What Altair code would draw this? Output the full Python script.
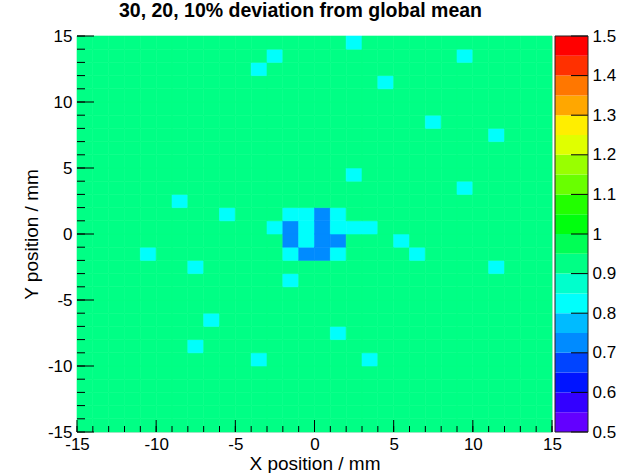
import colorsys

import altair as alt
import pandas as pd

# Detector map: 1 mm pixels over a 30 x 30 mm area.
X_RANGE = [-15, 15]
Y_RANGE = [-15, 15]

# Relative response levels (30, 20 and 10 % below the global mean).
BASE_VALUE = 0.9
CYAN_VALUE = 0.8
BLUE_VALUE = 0.7

# Lower-left corners (x, y) of the pixels at 0.8 of the mean.
cyan_cells = [
    (2, 14), (-3, 13), (9, 13), (-4, 12), (4, 11), (7, 8), (11, 7),
    (2, 4), (9, 3), (-9, 2), (-6, 1),
    (-2, 1), (-1, 1), (1, 1),
    (-3, 0), (-1, 0), (1, 0), (2, 0), (3, 0),
    (-1, -1), (5, -1),
    (-2, -2), (1, -2), (6, -2), (-11, -2),
    (-8, -3), (11, -3), (-2, -4),
    (-7, -7), (1, -8), (-8, -9), (-4, -10), (3, -10),
]

# Lower-left corners (x, y) of the pixels at 0.7 of the mean.
blue_cells = [
    (0, 1), (-2, 0), (0, 0), (-2, -1), (0, -1), (1, -1), (-1, -2), (0, -2),
]

# Colour axis: 20 contour levels between 0.5 and 1.5.
Z_MIN, Z_MAX, N_CONTOURS = 0.5, 1.5, 20
z_step = (Z_MAX - Z_MIN) / N_CONTOURS
z_ticks = [round(Z_MIN + 0.1 * i, 1) for i in range(11)]
band_lo = [round(Z_MIN + z_step * k, 2) for k in range(N_CONTOURS)]
band_hi = [round(lo + z_step, 2) for lo in band_lo]
thresholds = band_lo[1:]


def pretty_palette_colour(idx, n=50):
    """Violet -> red spectrum (HLS, fixed lightness and saturation)."""
    if idx == n - 1:
        return "#ff0000"
    hue = 280.0 - (idx + 1) * (280.0 / n)
    r, g, b = colorsys.hls_to_rgb(hue / 360.0, 0.5, 1.0)
    return "#{:02x}{:02x}{:02x}".format(round(r * 255), round(g * 255), round(b * 255))


contour_colours = [
    pretty_palette_colour(int((k + 0.99) * 50 / N_CONTOURS)) for k in range(N_CONTOURS)
]

# ---- tables -------------------------------------------------------------
cyan_set, blue_set = set(cyan_cells), set(blue_cells)
rows = []
for x0 in range(X_RANGE[0], X_RANGE[1]):
    for y0 in range(Y_RANGE[0], Y_RANGE[1]):
        v = BASE_VALUE
        if (x0, y0) in cyan_set:
            v = CYAN_VALUE
        if (x0, y0) in blue_set:
            v = BLUE_VALUE
        rows.append({"x": x0, "x2": x0 + 1, "y": y0, "y2": y0 + 1, "v": v})
grid = pd.DataFrame(rows)

bands = pd.DataFrame({"lo": band_lo, "hi": band_hi, "v": band_lo})
major = pd.DataFrame({"t": list(range(-15, 16, 5))})
minor = pd.DataFrame({"t": list(range(-15, 16))})
ztick_df = pd.DataFrame({"t": z_ticks})
zframe = pd.DataFrame({"lo": [Z_MIN], "hi": [Z_MAX]})

# ---- geometry / style ---------------------------------------------------
W, H = 475, 396
FONT = "Liberation Sans"
FS = 17          # tick labels
FS_TITLE = 19    # axis titles
BAR_X0, BAR_X1 = W + 3, W + 36
PLAIN_LABEL = "'' + datum.value"   # plain hyphen minus, "1" rather than "1.0"

xs = alt.Scale(domain=X_RANGE, nice=False, zero=False)
ys = alt.Scale(domain=Y_RANGE, nice=False, zero=False)
zs = alt.Scale(domain=[Z_MIN, Z_MAX], nice=False, zero=False)
cs = alt.Scale(type="threshold", domain=thresholds, range=contour_colours)

x_axis = alt.Axis(
    values=list(range(-15, 16, 5)), tickSize=0, domain=False, grid=False,
    labelFlush=False, labelOverlap=False, labelPadding=4, labelExpr=PLAIN_LABEL,
    labelFontSize=FS, labelFont=FONT, labelColor="black",
    title="X position / mm", titleFontSize=FS_TITLE, titleFont=FONT,
    titleFontWeight="normal", titleColor="black", titlePadding=2,
)
y_axis = alt.Axis(
    orient="left", values=list(range(-15, 16, 5)), tickSize=0, domain=False,
    grid=False, labelFlush=False, labelOverlap=False, labelPadding=5,
    labelExpr=PLAIN_LABEL, labelFontSize=FS, labelFont=FONT, labelColor="black",
    title="Y position / mm", titleFontSize=FS_TITLE, titleFont=FONT,
    titleFontWeight="normal", titleColor="black", titlePadding=6,
)

heat = alt.Chart(grid).mark_rect(strokeWidth=0.6).encode(
    x=alt.X("x:Q", scale=xs, axis=x_axis),
    x2="x2:Q",
    y=alt.Y("y:Q", scale=ys, axis=y_axis),
    y2="y2:Q",
    color=alt.Color("v:Q", scale=cs, legend=None),
    stroke=alt.Stroke("v:Q", scale=cs, legend=None),
)

# Inward ticks along the left and bottom frame edges
y_major = alt.Chart(major).mark_rule(color="black", strokeWidth=1).encode(
    y=alt.Y("t:Q", scale=ys, axis=None), x=alt.value(0), x2=alt.value(17)
)
y_minor = alt.Chart(minor).mark_rule(color="black", strokeWidth=1).encode(
    y=alt.Y("t:Q", scale=ys, axis=None), x=alt.value(0), x2=alt.value(8)
)
x_major = alt.Chart(major).mark_rule(color="black", strokeWidth=1).encode(
    x=alt.X("t:Q", scale=xs, axis=x_axis), y=alt.value(H), y2=alt.value(H - 12)
)
x_minor = alt.Chart(minor).mark_rule(color="black", strokeWidth=1).encode(
    x=alt.X("t:Q", scale=xs, axis=x_axis), y=alt.value(H), y2=alt.value(H - 6)
)

# Colour bar on the right
bar = alt.Chart(bands).mark_rect().encode(
    x=alt.value(BAR_X0),
    x2=alt.value(BAR_X1),
    y=alt.Y(
        "lo:Q", scale=zs,
        axis=alt.Axis(
            orient="right", offset=BAR_X1 - W, values=z_ticks, labelExpr=PLAIN_LABEL,
            tickSize=0, domain=False, grid=False, labelFlush=False,
            labelOverlap=False, labelPadding=4, labelFontSize=FS, labelFont=FONT,
            labelColor="black", title=None,
        ),
    ),
    y2="hi:Q",
    color=alt.Color("v:Q", scale=cs, legend=None),
)
bar_ticks = alt.Chart(ztick_df).mark_rule(color="black", strokeWidth=1).encode(
    y=alt.Y("t:Q", scale=zs, axis=None), x=alt.value(BAR_X1 - 17), x2=alt.value(BAR_X1)
)
bar_frame = alt.Chart(zframe).mark_rect(
    fillOpacity=0, stroke="#222222", strokeWidth=1
).encode(
    y=alt.Y("lo:Q", scale=zs, axis=None), y2="hi:Q",
    x=alt.value(BAR_X0), x2=alt.value(BAR_X1),
)

chart = (
    alt.layer(heat, y_major, y_minor, x_major, x_minor, bar, bar_ticks, bar_frame)
    .resolve_scale(y="independent")
    .properties(
        width=W,
        height=H,
        autosize=alt.AutoSizeParams(type="none"),
        padding={"left": 77, "top": 36, "right": 632 - 77 - W, "bottom": 473 - 36 - H},
        title=alt.TitleParams(
            "30, 20, 10% deviation from global mean",
            fontSize=19.5, fontWeight="bold", font=FONT, color="black",
            anchor="middle", offset=6, dx=-14,
        ),
    )
    .configure_view(stroke="black", strokeWidth=1)
    .configure(background="white")
)

chart.save("out.html", embed_options={"renderer": "svg", "actions": False})
